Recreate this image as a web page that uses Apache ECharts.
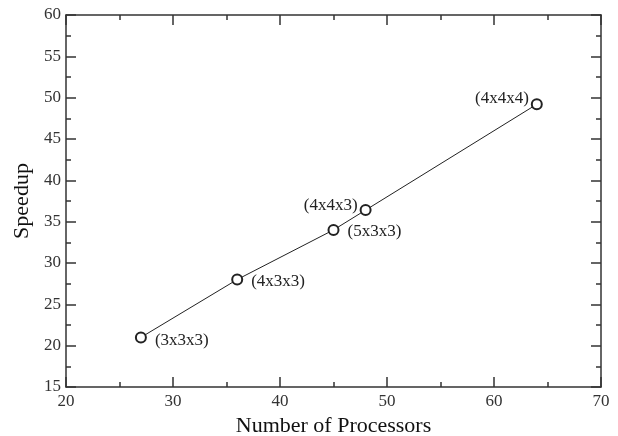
<!DOCTYPE html>
<html>
<head>
<meta charset="utf-8">
<script src="https://cdn.jsdelivr.net/npm/echarts@6/dist/echarts.min.js"></script>
<style>html,body{margin:0;padding:0;background:#fff}#c{width:618px;height:436px}</style>
</head>
<body>
<div id="c"></div>
<script>
var processors = [27, 36, 45, 48, 64];
var speedup = [21.0, 28.0, 34.0, 36.4, 49.2];
var configs = ['(3x3x3)', '(4x3x3)', '(5x3x3)', '(4x4x3)', '(4x4x4)'];
var xTicks = [20, 30, 40, 50, 60, 70];
var yTicks = [15, 20, 25, 30, 35, 40, 45, 50, 55, 60];

var FONT = '"Liberation Serif", "DejaVu Serif", serif';
var labelStyles = [
  {position: 'right', offset: [3, 3]},
  {position: 'right', offset: [3, 2]},
  {position: 'right', offset: [3, 2]},
  {position: 'left', offset: [3, -5]},
  {position: 'left', offset: [3, -6]}
];
var data = processors.map(function (x, i) {
  var ls = labelStyles[i];
  return {
    value: [x, speedup[i]],
    label: {show: true, formatter: configs[i], position: ls.position, offset: ls.offset,
      fontFamily: FONT, fontSize: 17, color: '#222'}
  };
});

var axisCommon = {
  axisLine: {show: true, lineStyle: {color: '#333', width: 1.5}},
  axisTick: {show: true, inside: true, length: 10, lineStyle: {color: '#333', width: 1.5}},
  minorTick: {show: true, splitNumber: 2, length: 5, lineStyle: {color: '#333', width: 1.5}},
  splitLine: {show: false},
  minorSplitLine: {show: false}
};
function ax(extra) { return Object.assign({}, JSON.parse(JSON.stringify(axisCommon)), extra); }

var chart = echarts.init(document.getElementById('c'));
chart.setOption({
  animation: false,
  backgroundColor: '#fff',
  grid: {left: 66, right: 17, top: 15, bottom: 49, containLabel: false, outerBoundsMode: 'none'},
  xAxis: [
    ax({type: 'value', position: 'bottom', min: xTicks[0], max: xTicks[xTicks.length - 1], interval: 10,
      name: 'Number of Processors', nameLocation: 'middle', nameGap: 27,
      nameTextStyle: {fontFamily: FONT, fontSize: 22, color: '#111'},
      axisLabel: {fontFamily: FONT, fontSize: 17, color: '#333', margin: 6}}),
    ax({type: 'value', position: 'top', min: xTicks[0], max: xTicks[xTicks.length - 1], interval: 10,
      axisLabel: {show: false}})
  ],
  yAxis: [
    ax({type: 'value', position: 'left', min: yTicks[0], max: yTicks[yTicks.length - 1], interval: 5,
      name: 'Speedup', nameLocation: 'middle', nameGap: 33, nameRotate: 90,
      nameTextStyle: {fontFamily: FONT, fontSize: 22, color: '#111'},
      axisLabel: {fontFamily: FONT, fontSize: 17, color: '#333', margin: 5}}),
    ax({type: 'value', position: 'right', min: yTicks[0], max: yTicks[yTicks.length - 1], interval: 5,
      axisLabel: {show: false}})
  ],
  series: [{
    type: 'line',
    data: data,
    symbol: 'emptyCircle',
    symbolSize: 10,
    lineStyle: {color: '#222', width: 1},
    itemStyle: {color: '#222', borderColor: '#222', borderWidth: 1.2}
  }]
});
</script>
</body>
</html>
